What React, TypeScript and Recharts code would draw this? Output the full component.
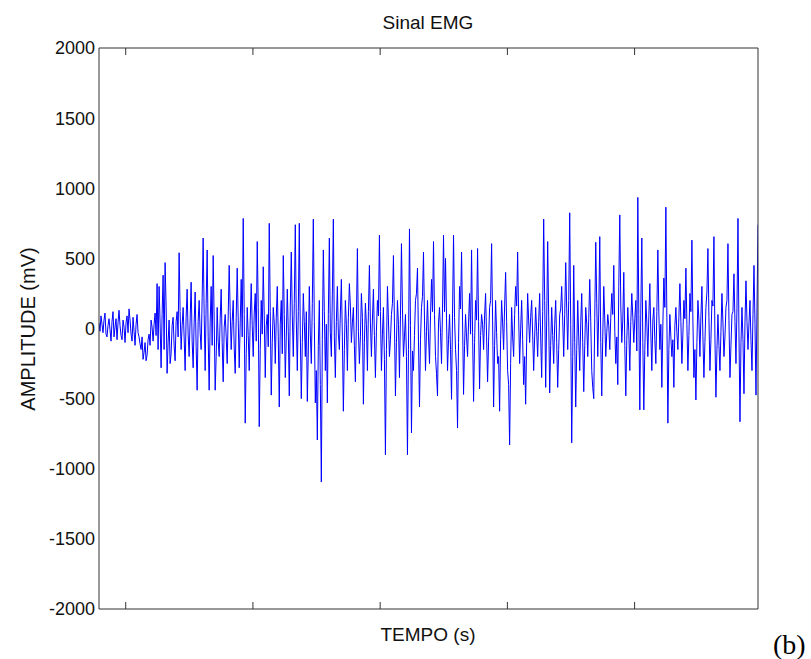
import { LineChart, Line, XAxis, YAxis } from "recharts"

// EMG amplitude in mV left to right.
// ampMain holds the visible swings (about every 2 px), ampBetween the smaller
// wiggles that sit between them (one after each main sample).
const ampMain = [
  40, 90, -30, 110, -60, 70, -90, 120, 10, -80,
  130, -50, 60, -100, 90, 140, -40, 80, -120, 100,
  -60, -150, -220, -100, -190, -40, 60, -90, 110, 320,
  300, -280, 380, 470, -320, 60, -180, 80, -230, 120,
  540, -150, 150, -300, 280, -200, 330, -280, 260, -440,
  200, -150, 645, -300, 560, -440, 300, 520, -440, 150,
  -200, 280, -380, 100, -250, 450, -150, 200, -320, 430,
  -280, 350, 785, -675, 150, -300, 320, -200, 250, 620,
  -700, 200, 440, -350, 100, 750, -475, 150, -250, 300,
  -560, 200, 520, -350, 280, -480, 545, -200, 740, -300,
  750, -500, 250, -200, -520, 300, -250, 780, -530, -795,
  200, -1095, 560, -300, -530, 645, -200, 780, -350, 300,
  -150, 350, -590, 200, -300, 320, -100, 150, -380, 570,
  -250, 250, -540, 180, -300, 450, -200, 280, -350, 200,
  665, -300, 150, -900, 300, -200, 100, 520, -480, 200,
  -350, 605, -200, 100, -900, 710, -745, -300, 200, 430,
  -560, 150, 545, -300, 200, -250, 350, 620, -200, -480,
  150, -250, 665, 500, -300, 100, -505, 665, -150, -710,
  300, 545, -470, 100, -200, 250, 560, -520, 200, 570,
  -430, 100, -150, 250, -380, 150, 605, -560, 200, -250,
  -590, 200, -150, 400, -300, -830, 150, -200, 300, 545,
  -250, 200, -400, -540, 250, -100, 200, -300, 150, -200,
  250, -350, 780, -420, 620, -460, 150, -250, 200, -420,
  100, 300, -200, 470, -150, 825, -815, 450, -560, 200,
  -300, 250, -450, 150, -200, 350, -300, -500, 615, -200,
  655, -480, 300, -200, 100, -150, 250, 450, -250, -400,
  810, -100, 400, -480, 150, -300, 250, -100, 200, 935,
  -580, 645, -580, 200, -200, 320, -300, 150, -250, 560,
  -150, -420, 360, 865, -675, 100, -200, -420, 150, -150,
  320, -250, 200, 430, -300, 250, 630, -350, -510, 200,
  -200, 300, -350, 150, 570, -300, 200, 655, -490, 100,
  -300, 250, -200, 150, 605, -350, 100, 390, -250, 785,
  -665, 150, -465, 340, -150, 200, -300, 450, -475, 740,
]

const ampBetween = [
  -20, 30, 60, -40, 20, -10, 50, -60, 70, 40,
  20, -80, 10, 40, -30, 60, -90, -20, 30, -30,
  -110, -60, -170, -230, -80, -120, 10, 30, -50, -150,
  40, 100, -150, 160, -100, -250, 20, -120, 50, -60,
  120, 20, -60, 80, -40, 60, -90, 40, -130, 50,
  -30, 220, 100, 180, -60, 40, -120, 60, -200, -90,
  70, -100, 10, -60, 90, 120, 50, -140, 80, 60,
  40, -60, 100, -180, -50, 60, 20, 110, -90, 150,
  -150, -40, 90, 20, -130, 120, -100, 40, 80, -60,
  30, -180, 100, -60, -20, 160, 90, 180, 60, 120,
  -40, -100, 50, 120, -160, -40, 180, 50, -300, -120,
  -400, -80, 120, 30, 100, -30, 240, -60, 50, -40,
  110, -60, -150, 30, 80, 160, 40, -120, 60, -20,
  -60, 80, -100, 30, 120, 40, 60, -50, -20, 90,
  120, -40, -220, -150, 60, -80, 180, 40, -100, 30,
  90, 140, -60, -200, -150, 20, -160, -50, 250, -90,
  -80, 230, 60, -20, -60, 90, 120, 100, -320, 40,
  -30, 140, 120, 70, -80, -150, 110, 80, -300, -100,
  140, 60, -120, -60, 40, -40, -30, -100, 60, 50,
  -50, 30, 90, -60, -90, 200, 60, -120, -30, -200,
  -80, 40, 160, 50, -400, -250, -60, 100, 160, 90,
  -10, -80, -200, -100, 60, 80, -40, -60, -20, 50,
  -60, 120, 200, 60, 90, -120, -50, 30, -100, -150,
  140, 60, 100, 140, 200, 30, -200, -100, -150, -60,
  40, -100, -120, 30, 70, 50, -420, 80, 180, 110,
  -100, -60, 60, -30, 20, 80, 100, -20, -60, 300,
  160, 60, -120, -80, -20, 50, 80, 70, -160, 100,
  140, -100, -150, 40, 90, -40, 60, -80, 120, 110,
  30, 20, 150, 80, -150, -60, -80, 20, -30, 80,
  50, -40, 70, 30, -50, 120, 60, -150, -100, 60,
  90, -60, -100, 260, 80, -80, 160, -60, -150, -120,
  -20, 40, -60, 200, 60, -120, 120, 50, 140, -40,
  -100, -80, 40, 50, 40, -90, 100, 30, 150,
]

const amplitude = ampMain.flatMap((v, i) => (i < ampBetween.length ? [v, ampBetween[i]] : [v]))

const T_START = 0.79
const T_END = 5.97
const tempoTicks = [1, 2, 3, 4, 5]
const ampTicks = [-2000, -1500, -1000, -500, 0, 500, 1000, 1500, 2000]

const data = amplitude.map((v, i) => ({
  t: T_START + (i * (T_END - T_START)) / (amplitude.length - 1),
  v,
}))

const axisColor = "#333"
const font = "'Liberation Sans', Arial, sans-serif"
const blank = () => ""

export default function App() {
  return (
    <div style={{ position: "absolute", left: 0, top: 0, width: 811, height: 659, background: "#fff", fontFamily: font }}>
      <LineChart width={811} height={659} data={data} margin={{ top: 48, right: 53, bottom: 50, left: 39 }}>
        {/* MATLAB style box: every side has inward ticks */}
        <XAxis
          xAxisId="x"
          dataKey="t"
          type="number"
          domain={[T_START, T_END]}
          ticks={tempoTicks}
          allowDataOverflow
          mirror
          tickSize={7}
          tickFormatter={blank}
          axisLine={{ stroke: axisColor }}
          tickLine={{ stroke: axisColor }}
        />
        <XAxis
          xAxisId="xTop"
          orientation="top"
          dataKey="t"
          type="number"
          domain={[T_START, T_END]}
          ticks={tempoTicks}
          allowDataOverflow
          mirror
          tickSize={7}
          tickFormatter={blank}
          axisLine={{ stroke: axisColor }}
          tickLine={{ stroke: axisColor }}
        />
        <YAxis
          yAxisId="y"
          type="number"
          domain={[-2000, 2000]}
          ticks={ampTicks}
          width={60}
          tickSize={0}
          tickMargin={4}
          tick={{ fill: "#111", fontSize: 18, fontFamily: font }}
          axisLine={false}
          tickLine={false}
        />
        <YAxis
          yAxisId="yIn"
          type="number"
          domain={[-2000, 2000]}
          ticks={ampTicks}
          mirror
          tickSize={7}
          tickFormatter={blank}
          axisLine={{ stroke: axisColor }}
          tickLine={{ stroke: axisColor }}
        />
        <YAxis
          yAxisId="yRight"
          orientation="right"
          type="number"
          domain={[-2000, 2000]}
          ticks={ampTicks}
          mirror
          tickSize={7}
          tickFormatter={blank}
          axisLine={{ stroke: axisColor }}
          tickLine={{ stroke: axisColor }}
        />
        <Line
          xAxisId="x"
          yAxisId="y"
          type="linear"
          dataKey="v"
          stroke="#0000ff"
          strokeWidth={1}
          dot={false}
          isAnimationActive={false}
        />
      </LineChart>
      <div style={{ position: "absolute", left: 428, top: 13, transform: "translateX(-50%)", fontSize: 19, lineHeight: "19px", color: "#111", whiteSpace: "nowrap" }}>
        Sinal EMG
      </div>
      <div style={{ position: "absolute", left: 428, top: 625, transform: "translateX(-50%)", fontSize: 19, lineHeight: "19px", color: "#111", whiteSpace: "nowrap" }}>
        TEMPO (s)
      </div>
      <div style={{ position: "absolute", left: 28, top: 329, transform: "translate(-50%, -50%) rotate(-90deg)", fontSize: 20, lineHeight: "20px", color: "#111", whiteSpace: "nowrap" }}>
        AMPLITUDE (mV)
      </div>
      <div style={{ position: "absolute", left: 773, top: 630, fontSize: 28, lineHeight: "30px", color: "#000", fontFamily: "'Liberation Serif', 'Times New Roman', serif" }}>
        (b)
      </div>
    </div>
  )
}
